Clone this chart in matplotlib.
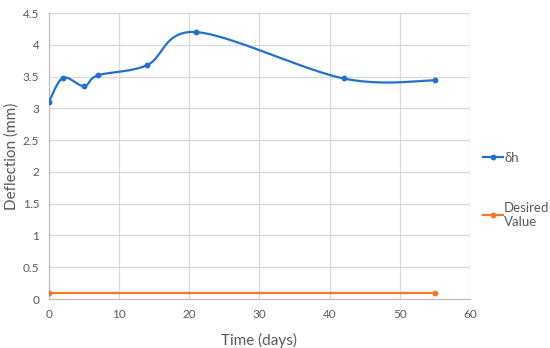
import numpy as np
import matplotlib
matplotlib.use("Agg")
import matplotlib.pyplot as plt
from matplotlib.lines import Line2D

days = [0, 2, 5, 7, 14, 21, 42, 55]
deflection = [3.1, 3.48, 3.35, 3.52, 3.68, 4.2, 3.47, 3.44]
desired_days = [0, 55]
desired_value = [0.1, 0.1]
xticks = [0, 10, 20, 30, 40, 50, 60]
yticks = [0, 0.5, 1, 1.5, 2, 2.5, 3, 3.5, 4, 4.5]

def smooth(x, y, n=40):
    x = np.asarray(x, float); y = np.asarray(y, float)
    px = np.concatenate([[x[0]], x, [x[-1]]])
    py = np.concatenate([[y[0]], y, [y[-1]]])
    ox, oy = [], []
    t = np.linspace(0, 1, n)
    for i in range(1, len(px) - 2):
        p0x, p1x, p2x, p3x = px[i-1], px[i], px[i+1], px[i+2]
        p0y, p1y, p2y, p3y = py[i-1], py[i], py[i+1], py[i+2]
        c1x = p1x + (p2x - p0x) / 6; c1y = p1y + (p2y - p0y) / 6
        c2x = p2x - (p3x - p1x) / 6; c2y = p2y - (p3y - p1y) / 6
        bx = (1-t)**3*p1x + 3*(1-t)**2*t*c1x + 3*(1-t)*t**2*c2x + t**3*p2x
        by = (1-t)**3*p1y + 3*(1-t)**2*t*c1y + 3*(1-t)*t**2*c2y + t**3*p2y
        ox.append(bx); oy.append(by)
    return np.concatenate(ox), np.concatenate(oy)

plt.rcParams['font.family'] = ['Lato', 'DejaVu Sans']
blue = '#2171CC'
orange = '#F5792A'
grey = '#595959'

fig = plt.figure(figsize=(5.5, 3.48), dpi=100)
ax = fig.add_axes([0.089, 0.1408, 0.7655, 0.8218])

sx, sy = smooth(days, deflection)
ax.plot(sx, sy, color=blue, lw=1.6, zorder=3)
ax.plot(days, deflection, 'o', color=blue, ms=3.2, zorder=4)
ax.plot(desired_days, desired_value, color=orange, lw=1.6, zorder=3)
ax.plot(desired_days, desired_value, 'o', color=orange, ms=3.2, zorder=4)

ax.set_xlim(0, 60)
ax.set_ylim(0, 4.5)
ax.set_xticks(xticks)
ax.set_yticks(yticks)
ax.set_yticklabels([f"{v:g}" for v in yticks])
ax.grid(True, color='#D9D9D9', lw=0.9)
ax.set_axisbelow(True)
for s in ['top', 'right']:
    ax.spines[s].set_visible(False)
for s in ['left', 'bottom']:
    ax.spines[s].set_color('#BFBFBF')
    ax.spines[s].set_linewidth(0.9)
ax.tick_params(length=0, labelsize=8.5, colors=grey, pad=7)
ax.set_xlabel('Time (days)', fontsize=11, color=grey)
ax.set_ylabel('Deflection (mm)', fontsize=11, color=grey)
ax.xaxis.set_label_coords(0.5, -0.118)
ax.yaxis.set_label_coords(-0.072, 0.5)

h1 = Line2D([], [], color=blue, lw=1.6, marker='o', ms=3.2)
h2 = Line2D([], [], color=orange, lw=1.6, marker='o', ms=3.2)
leg = fig.legend([h1, h2], ['δh', 'Desired\nValue'], loc='upper left',
                 bbox_to_anchor=(0.878, 0.563), frameon=False, fontsize=9.5,
                 handlelength=1.5, handletextpad=0.1, labelspacing=2.85,
                 labelcolor=grey, borderaxespad=0, borderpad=0)

fig.savefig('out.png', dpi=100)
